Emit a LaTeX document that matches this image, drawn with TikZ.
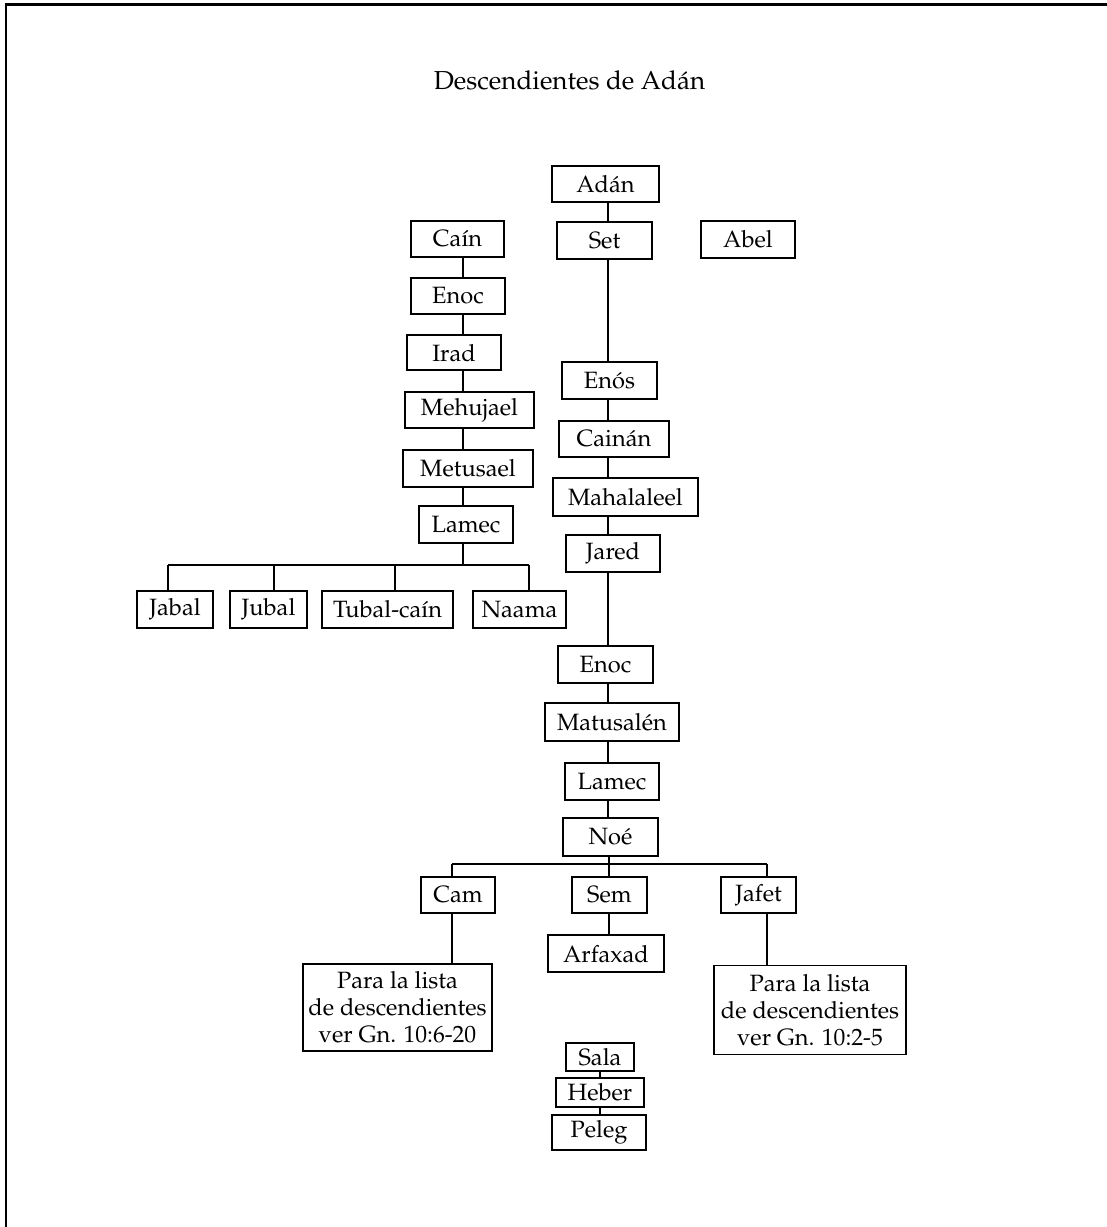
\documentclass[tikz,border=0pt]{standalone}
\usepackage[T1]{fontenc}
\usepackage{mathpazo}
\begin{document}
\begin{tikzpicture}[x=0.5pt,y=-0.5pt,
  box/.style={draw, line width=0.6pt, inner sep=0pt, align=center, font=\fontsize{11.8}{13.4}\selectfont},
  conn/.style={line width=1.2pt},
  frame/.style={line width=1.3pt}]
\useasboundingbox (0,0) rectangle (1107,1227);
% frame (only left and top edges are visible)
\coordinate (fbl) at (6,1227);
\coordinate (ftl) at (6,4.7);
\coordinate (ftr) at (1107,4.7);
\draw[frame] (fbl) -- (ftl) -- (ftr);
% title
\node[font=\fontsize{13}{15}\selectfont] (title) at (569.5,80) {Descendientes de Ad\'an};
% main line
\node[box, minimum width=53.5pt, minimum height=18pt] (adan) at (605.5,184) {Ad\'an};
\node[box, minimum width=47.5pt, minimum height=18.5pt] (set) at (604.5,240.5) {Set};
\node[box, minimum width=47pt, minimum height=18.5pt] (abel) at (748,239.5) {Abel};
% Cain line
\node[box, minimum width=46.5pt, minimum height=18pt] (cain) at (457.5,239) {Ca\'{\i}n};
\node[box, minimum width=47pt, minimum height=18pt] (enoc1) at (458,296) {Enoc};
\node[box, minimum width=47pt, minimum height=17.5pt] (irad) at (454,352.5) {Irad};
\node[box, minimum width=64.5pt, minimum height=18pt] (mehujael) at (469.5,410) {Mehujael};
\node[box, minimum width=65pt, minimum height=18.5pt] (metusael) at (468,468.5) {Metusael};
\node[box, minimum width=47pt, minimum height=18.5pt] (lamec1) at (466,524.5) {Lamec};
\node[box, minimum width=38pt, minimum height=18.5pt] (jabal) at (175,609.5) {Jabal};
\node[box, minimum width=38.5pt, minimum height=18.5pt] (jubal) at (268.5,609.5) {Jubal};
\node[box, minimum width=65.5pt, minimum height=18.5pt] (tubal) at (387.5,609.5) {Tubal-ca\'{\i}n};
\node[box, minimum width=46.5pt, minimum height=18.5pt] (naama) at (519.5,609.5) {Naama};
% Set line
\node[box, minimum width=47.5pt, minimum height=18.5pt] (enos) at (609.5,380.5) {En\'os};
\node[box, minimum width=55pt, minimum height=18pt] (cainan) at (614,439) {Cain\'an};
\node[box, minimum width=72.5pt, minimum height=19pt] (mahalaleel) at (625.5,497) {Mahalaleel};
\node[box, minimum width=47pt, minimum height=18.5pt] (jared) at (613,553.5) {Jared};
\node[box, minimum width=47.5pt, minimum height=18.5pt] (enoc2) at (605.5,664.5) {Enoc};
\node[box, minimum width=67pt, minimum height=19pt] (matusalen) at (612,722) {Matusal\'en};
\node[box, minimum width=47pt, minimum height=18.5pt] (lamec2) at (612,781.5) {Lamec};
\node[box, minimum width=47.5pt, minimum height=19pt] (noe) at (610.5,837) {No\'e};
\node[box, minimum width=37pt, minimum height=18pt] (cam) at (458,895) {Cam};
\node[box, minimum width=37.5pt, minimum height=18pt] (sem) at (609.5,895) {Sem};
\node[box, minimum width=37.5pt, minimum height=18pt] (jafet) at (758.5,895) {Jafet};
\node[box, minimum width=58pt, minimum height=18.5pt] (arfaxad) at (606,953.5) {Arfaxad};
\node[box, minimum width=94.5pt, minimum height=43.5pt] (camlist) at (397.5,1007.5) {Para la lista\\de descendientes\\ver Gn. 10:6-20};
\node[box, minimum width=96pt, minimum height=44.5pt] (jafetlist) at (810,1010) {Para la lista\\de descendientes\\ver Gn. 10:2-5};
\node[box, minimum width=34pt, minimum height=14pt] (sala) at (600,1057) {Sala};
\node[box, minimum width=44pt, minimum height=14.5pt] (heber) at (600,1092.5) {Heber};
\node[box, minimum width=47pt, minimum height=17.5pt] (peleg) at (599,1132.5) {Peleg};
% line positions
\coordinate (cl) at (463,0);
\coordinate (rl) at (608,0);
\coordinate (sl) at (600,0);
\coordinate (b1) at (463,565);
\coordinate (b1l) at (168,565);
\coordinate (b1a) at (274,565);
\coordinate (b1b) at (395,565);
\coordinate (b1r) at (529,565);
\coordinate (b2) at (609,864);
\coordinate (b2l) at (452,864);
\coordinate (b2r) at (767,864);
% connectors, Set line
\draw[conn] (adan.south -| rl) -- (set.north -| rl);
\draw[conn] (set.south -| rl) -- (enos.north -| rl);
\draw[conn] (enos.south -| rl) -- (cainan.north -| rl);
\draw[conn] (cainan.south -| rl) -- (mahalaleel.north -| rl);
\draw[conn] (mahalaleel.south -| rl) -- (jared.north -| rl);
\draw[conn] (jared.south -| rl) -- (enoc2.north -| rl);
\draw[conn] (enoc2.south -| rl) -- (matusalen.north -| rl);
\draw[conn] (matusalen.south -| rl) -- (lamec2.north -| rl);
\draw[conn] (lamec2.south -| rl) -- (noe.north -| rl);
% Noe's sons
\draw[conn] (noe.south -| b2) -- (b2);
\draw[conn] (b2l) -- (b2r);
\draw[conn] (b2l) -- (b2l |- cam.north);
\draw[conn] (b2) -- (b2 |- sem.north);
\draw[conn] (b2r) -- (b2r |- jafet.north);
\draw[conn] (cam.south -| b2l) -- (camlist.north -| b2l);
\draw[conn] (sem.south -| b2) -- (arfaxad.north -| b2);
\draw[conn] (jafet.south -| b2r) -- (jafetlist.north -| b2r);
\draw[conn] (sala.south -| sl) -- (heber.north -| sl);
\draw[conn] (heber.south -| sl) -- (peleg.north -| sl);
% Cain line
\draw[conn] (cain.south -| cl) -- (enoc1.north -| cl);
\draw[conn] (enoc1.south -| cl) -- (irad.north -| cl);
\draw[conn] (irad.south -| cl) -- (mehujael.north -| cl);
\draw[conn] (mehujael.south -| cl) -- (metusael.north -| cl);
\draw[conn] (metusael.south -| cl) -- (lamec1.north -| cl);
\draw[conn] (lamec1.south -| b1) -- (b1);
\draw[conn] (b1l) -- (b1r);
\draw[conn] (b1l) -- (b1l |- jabal.north);
\draw[conn] (b1a) -- (b1a |- jubal.north);
\draw[conn] (b1b) -- (b1b |- tubal.north);
\draw[conn] (b1r) -- (b1r |- naama.north);
\end{tikzpicture}
\end{document}
